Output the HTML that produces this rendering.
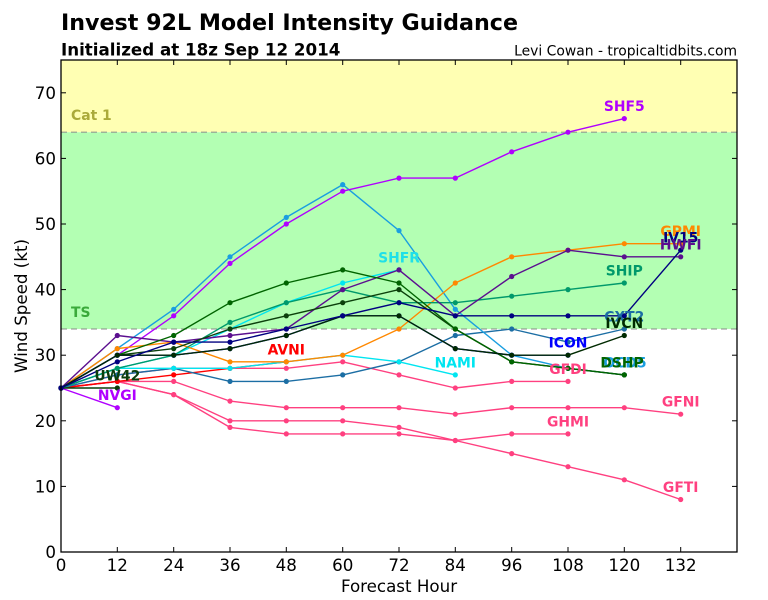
<!DOCTYPE html>
<html><head><meta charset="utf-8"><style>
html,body{margin:0;padding:0;background:#fff;}
svg{display:block;font-family:"DejaVu Sans","Liberation Sans",sans-serif;}
.lab{font-weight:bold;font-size:13.9px;text-anchor:middle;}
.tk{font-size:16.7px;}
</style></head><body>
<svg width="768" height="600" viewBox="0 0 768 600" xmlns="http://www.w3.org/2000/svg">
<defs>
<marker id="mPk" markerWidth="6" markerHeight="6" refX="3" refY="3" markerUnits="userSpaceOnUse"><circle cx="3" cy="3" r="2.6" fill="#ff4080"/></marker>
<marker id="mRd" markerWidth="6" markerHeight="6" refX="3" refY="3" markerUnits="userSpaceOnUse"><circle cx="3" cy="3" r="2.6" fill="#ff0000"/></marker>
<marker id="mCy" markerWidth="6" markerHeight="6" refX="3" refY="3" markerUnits="userSpaceOnUse"><circle cx="3" cy="3" r="2.6" fill="#00e5f0"/></marker>
<marker id="mSt" markerWidth="6" markerHeight="6" refX="3" refY="3" markerUnits="userSpaceOnUse"><circle cx="3" cy="3" r="2.6" fill="#1c6ea4"/></marker>
<marker id="mSk" markerWidth="6" markerHeight="6" refX="3" refY="3" markerUnits="userSpaceOnUse"><circle cx="3" cy="3" r="2.6" fill="#1a9ee0"/></marker>
<marker id="mVi" markerWidth="6" markerHeight="6" refX="3" refY="3" markerUnits="userSpaceOnUse"><circle cx="3" cy="3" r="2.6" fill="#b000ff"/></marker>
<marker id="mUw" markerWidth="6" markerHeight="6" refX="3" refY="3" markerUnits="userSpaceOnUse"><circle cx="3" cy="3" r="2.6" fill="#0b3d0b"/></marker>
<marker id="mOr" markerWidth="6" markerHeight="6" refX="3" refY="3" markerUnits="userSpaceOnUse"><circle cx="3" cy="3" r="2.6" fill="#ff8800"/></marker>
<marker id="mIn" markerWidth="6" markerHeight="6" refX="3" refY="3" markerUnits="userSpaceOnUse"><circle cx="3" cy="3" r="2.6" fill="#5b0f8f"/></marker>
<marker id="mTe" markerWidth="6" markerHeight="6" refX="3" refY="3" markerUnits="userSpaceOnUse"><circle cx="3" cy="3" r="2.6" fill="#00996b"/></marker>
<marker id="mDg" markerWidth="6" markerHeight="6" refX="3" refY="3" markerUnits="userSpaceOnUse"><circle cx="3" cy="3" r="2.6" fill="#006400"/></marker>
<marker id="mD2" markerWidth="6" markerHeight="6" refX="3" refY="3" markerUnits="userSpaceOnUse"><circle cx="3" cy="3" r="2.6" fill="#0b400b"/></marker>
<marker id="mBl" markerWidth="6" markerHeight="6" refX="3" refY="3" markerUnits="userSpaceOnUse"><circle cx="3" cy="3" r="2.6" fill="#0000ff"/></marker>
<marker id="mIc" markerWidth="6" markerHeight="6" refX="3" refY="3" markerUnits="userSpaceOnUse"><circle cx="3" cy="3" r="2.6" fill="#002a00"/></marker>
<marker id="mNv" markerWidth="6" markerHeight="6" refX="3" refY="3" markerUnits="userSpaceOnUse"><circle cx="3" cy="3" r="2.6" fill="#000080"/></marker>
</defs>

<!-- Titles -->
<text x="61" y="30" font-size="22.2px" font-weight="bold" fill="#000">Invest 92L Model Intensity Guidance</text>
<text x="61" y="55.5" font-size="16.7px" font-weight="bold" fill="#000">Initialized at 18z Sep 12 2014</text>
<text x="737" y="55.5" font-size="13.9px" text-anchor="end" fill="#000">Levi Cowan - tropicaltidbits.com</text>

<!-- Background bands -->
<rect x="61" y="60" width="676" height="72.2" fill="#ffffb3"/>
<rect x="61" y="132.2" width="676" height="196.8" fill="#b3ffb3"/>
<line x1="61" y1="132.2" x2="737" y2="132.2" stroke="#808080" stroke-opacity="0.6" stroke-width="1.5" stroke-dasharray="6,4"/>
<line x1="61" y1="329" x2="737" y2="329" stroke="#808080" stroke-opacity="0.6" stroke-width="1.5" stroke-dasharray="6,4"/>
<text x="71" y="120" font-size="13.9px" font-weight="bold" fill="#aaaa3a">Cat 1</text>
<text x="71" y="317" font-size="13.9px" font-weight="bold" fill="#3aaa3a">TS</text>

<!-- Series -->
<g fill="none" stroke-width="1.4" stroke-linejoin="round">
<polyline stroke="#ff4080" marker-start="url(#mPk)" marker-mid="url(#mPk)" marker-end="url(#mPk)" points="61,388 117.3,381.4 173.7,394.6 230,420.8 286.3,420.8 342.7,420.8 399,427.4 455.3,440.5 511.7,453.6 568,466.7 624.3,479.8 680.7,499.5"/>
<polyline stroke="#ff4080" marker-start="url(#mPk)" marker-mid="url(#mPk)" marker-end="url(#mPk)" points="61,388 117.3,381.4 173.7,394.6 230,427.4 286.3,433.9 342.7,433.9 399,433.9 455.3,440.5 511.7,433.9 568,433.9"/>
<polyline stroke="#ff4080" marker-start="url(#mPk)" marker-mid="url(#mPk)" marker-end="url(#mPk)" points="61,388 117.3,381.4 173.7,381.4 230,401.1 286.3,407.7 342.7,407.7 399,407.7 455.3,414.2 511.7,407.7 568,407.7 624.3,407.7 680.7,414.2"/>
<polyline stroke="#ff4080" marker-start="url(#mPk)" marker-mid="url(#mPk)" marker-end="url(#mPk)" points="61,388 117.3,374.9 173.7,368.3 230,368.3 286.3,368.3 342.7,361.8 399,374.9 455.3,388 511.7,381.4 568,381.4"/>
<polyline stroke="#ff0000" marker-start="url(#mRd)" marker-mid="url(#mRd)" marker-end="url(#mRd)" points="61,388 117.3,381.4 173.7,374.9 230,368.3 286.3,361.8"/>
<polyline stroke="#1c6ea4" marker-start="url(#mSt)" marker-mid="url(#mSt)" marker-end="url(#mSt)" points="61,388 117.3,374.9 173.7,368.3 230,381.4 286.3,381.4 342.7,374.9 399,361.8 455.3,335.5 511.7,329 568,342.1 624.3,329"/>
<polyline stroke="#00e5f0" marker-start="url(#mCy)" marker-mid="url(#mCy)" marker-end="url(#mCy)" points="61,388 117.3,368.3 173.7,368.3 230,368.3 286.3,361.8 342.7,355.2 399,361.8 455.3,374.9"/>
<polyline stroke="#00e5f0" marker-start="url(#mCy)" marker-mid="url(#mCy)" marker-end="url(#mCy)" points="61,388 117.3,368.3 173.7,355.2 230,329 286.3,302.7 342.7,283 399,269.9"/>
<polyline stroke="#1a9ee0" marker-start="url(#mSk)" marker-mid="url(#mSk)" marker-end="url(#mSk)" points="61,388 117.3,348.6 173.7,309.3 230,256.8 286.3,217.4 342.7,184.6 399,230.6 455.3,309.3 511.7,355.2 568,368.3 624.3,374.9"/>
<polyline stroke="#b000ff" marker-start="url(#mVi)" marker-mid="url(#mVi)" marker-end="url(#mVi)" points="61,388 117.3,355.2 173.7,315.8 230,263.4 286.3,224 342.7,191.2 399,178.1 455.3,178.1 511.7,151.8 568,132.2 624.3,118.6"/>
<polyline stroke="#b000ff" marker-start="url(#mVi)" marker-end="url(#mVi)" points="61,388 117.3,407.7"/>
<polyline stroke="#0b3d0b" marker-start="url(#mUw)" marker-end="url(#mUw)" points="61,388 117.3,388"/>
<polyline stroke="#ff8800" marker-start="url(#mOr)" marker-mid="url(#mOr)" marker-end="url(#mOr)" points="61,388 117.3,348.6 173.7,342.1 230,361.8 286.3,361.8 342.7,355.2 399,329 455.3,283 511.7,256.8 568,250.2 624.3,243.7 680.7,243.7"/>
<polyline stroke="#00996b" marker-start="url(#mTe)" marker-mid="url(#mTe)" marker-end="url(#mTe)" points="61,388 117.3,368.3 173.7,355.2 230,322.4 286.3,302.7 342.7,289.6 399,302.7 455.3,302.7 511.7,296.2 568,289.6 624.3,283"/>
<polyline stroke="#5b0f8f" marker-start="url(#mIn)" marker-mid="url(#mIn)" marker-end="url(#mIn)" points="61,388 117.3,335.5 173.7,342.1 230,335.5 286.3,329 342.7,289.6 399,269.9 455.3,315.8 511.7,276.5 568,250.2 624.3,256.8 680.7,256.8"/>
<polyline stroke="#0b400b" marker-start="url(#mD2)" marker-mid="url(#mD2)" marker-end="url(#mD2)" points="61,388 117.3,355.2 173.7,348.6 230,329 286.3,315.8 342.7,302.7 399,289.6 455.3,329 511.7,361.8 568,368.3 624.3,374.9"/>
<polyline stroke="#006400" marker-start="url(#mDg)" marker-mid="url(#mDg)" marker-end="url(#mDg)" points="61,388 117.3,355.2 173.7,335.5 230,302.7 286.3,283 342.7,269.9 399,283 455.3,329 511.7,361.8 568,368.3 624.3,374.9"/>
<polyline stroke="#0000ff" marker-start="url(#mBl)" marker-mid="url(#mBl)" marker-end="url(#mBl)" points="61,388 117.3,355.2 173.7,355.2 230,348.6 286.3,335.5 342.7,315.8 399,315.8 455.3,348.6 511.7,355.2 568,355.2"/>
<polyline stroke="#002a00" marker-start="url(#mIc)" marker-mid="url(#mIc)" marker-end="url(#mIc)" points="61,388 117.3,355.2 173.7,355.2 230,348.6 286.3,335.5 342.7,315.8 399,315.8 455.3,348.6 511.7,355.2 568,355.2 624.3,335.5"/>
<polyline stroke="#000080" marker-start="url(#mNv)" marker-mid="url(#mNv)" marker-end="url(#mNv)" points="61,388 117.3,361.8 173.7,342.1 230,342.1 286.3,329 342.7,315.8 399,302.7 455.3,315.8 511.7,315.8 568,315.8 624.3,315.8 680.7,250.2"/>
</g>

<!-- Labels -->
<text class="lab" x="624.3" y="111" fill="#b000ff">SHF5</text>
<text class="lab" x="680.7" y="236" fill="#ff8800">GPMI</text>
<text class="lab" x="680.7" y="242.5" fill="#000080">IV15</text>
<text class="lab" x="680.7" y="249.3" fill="#5b0f8f">HWFI</text>
<text class="lab" x="624.3" y="275.5" fill="#00996b">SHIP</text>
<text class="lab" x="624.3" y="321.5" fill="#1c6ea4">CXT2</text>
<text class="lab" x="624.3" y="328" fill="#002a00">IVCN</text>
<text class="lab" x="568" y="347.7" fill="#0000ff">ICON</text>
<text class="lab" x="625" y="367.4" fill="#1a9ee0">OCD5</text>
<text class="lab" x="622" y="367.4" fill="#006400">DSHP</text>
<text class="lab" x="568" y="374" fill="#ff4080">GFDI</text>
<text class="lab" x="680.7" y="406.7" fill="#ff4080">GFNI</text>
<text class="lab" x="568" y="426.4" fill="#ff4080">GHMI</text>
<text class="lab" x="680.7" y="492" fill="#ff4080">GFTI</text>
<text class="lab" x="455.3" y="367.4" fill="#00e5f0">NAMI</text>
<text class="lab" x="399" y="262.4" fill="#1fe0e8">SHFR</text>
<text class="lab" x="286.3" y="354.3" fill="#ff0000">AVNI</text>
<text class="lab" x="117.3" y="380.5" fill="#0b3d0b">UW42</text>
<text class="lab" x="117.3" y="400.2" fill="#b000ff">NVGI</text>

<!-- Axes frame -->
<rect x="61" y="60" width="676" height="492" fill="none" stroke="#000" stroke-width="1.3"/>

<!-- Ticks -->
<g stroke="#000" stroke-width="1">
<line x1="117.3" y1="552" x2="117.3" y2="547"/><line x1="173.7" y1="552" x2="173.7" y2="547"/><line x1="230" y1="552" x2="230" y2="547"/><line x1="286.3" y1="552" x2="286.3" y2="547"/><line x1="342.7" y1="552" x2="342.7" y2="547"/><line x1="399" y1="552" x2="399" y2="547"/><line x1="455.3" y1="552" x2="455.3" y2="547"/><line x1="511.7" y1="552" x2="511.7" y2="547"/><line x1="568" y1="552" x2="568" y2="547"/><line x1="624.3" y1="552" x2="624.3" y2="547"/><line x1="680.7" y1="552" x2="680.7" y2="547"/>
<line x1="117.3" y1="60" x2="117.3" y2="65"/><line x1="173.7" y1="60" x2="173.7" y2="65"/><line x1="230" y1="60" x2="230" y2="65"/><line x1="286.3" y1="60" x2="286.3" y2="65"/><line x1="342.7" y1="60" x2="342.7" y2="65"/><line x1="399" y1="60" x2="399" y2="65"/><line x1="455.3" y1="60" x2="455.3" y2="65"/><line x1="511.7" y1="60" x2="511.7" y2="65"/><line x1="568" y1="60" x2="568" y2="65"/><line x1="624.3" y1="60" x2="624.3" y2="65"/><line x1="680.7" y1="60" x2="680.7" y2="65"/>
<line x1="61" y1="486.4" x2="66" y2="486.4"/><line x1="61" y1="420.8" x2="66" y2="420.8"/><line x1="61" y1="355.2" x2="66" y2="355.2"/><line x1="61" y1="289.6" x2="66" y2="289.6"/><line x1="61" y1="224" x2="66" y2="224"/><line x1="61" y1="158.4" x2="66" y2="158.4"/><line x1="61" y1="92.8" x2="66" y2="92.8"/>
<line x1="737" y1="486.4" x2="732" y2="486.4"/><line x1="737" y1="420.8" x2="732" y2="420.8"/><line x1="737" y1="355.2" x2="732" y2="355.2"/><line x1="737" y1="289.6" x2="732" y2="289.6"/><line x1="737" y1="224" x2="732" y2="224"/><line x1="737" y1="158.4" x2="732" y2="158.4"/><line x1="737" y1="92.8" x2="732" y2="92.8"/>
</g>

<!-- Tick labels -->
<g class="tk" fill="#000" text-anchor="middle">
<text x="61" y="571">0</text><text x="117.3" y="571">12</text><text x="173.7" y="571">24</text><text x="230" y="571">36</text><text x="286.3" y="571">48</text><text x="342.7" y="571">60</text><text x="399" y="571">72</text><text x="455.3" y="571">84</text><text x="511.7" y="571">96</text><text x="568" y="571">108</text><text x="624.3" y="571">120</text><text x="680.7" y="571">132</text>
</g>
<g class="tk" fill="#000" text-anchor="end">
<text x="56" y="558">0</text><text x="56" y="492.4">10</text><text x="56" y="426.8">20</text><text x="56" y="361.2">30</text><text x="56" y="295.6">40</text><text x="56" y="230">50</text><text x="56" y="164.4">60</text><text x="56" y="98.8">70</text>
</g>

<!-- Axis titles -->
<text x="399" y="592" font-size="16.7px" text-anchor="middle" fill="#000">Forecast Hour</text>
<text x="0" y="0" font-size="16.7px" text-anchor="middle" fill="#000" transform="translate(27,306) rotate(-90)">Wind Speed (kt)</text>
</svg>
</body></html>
